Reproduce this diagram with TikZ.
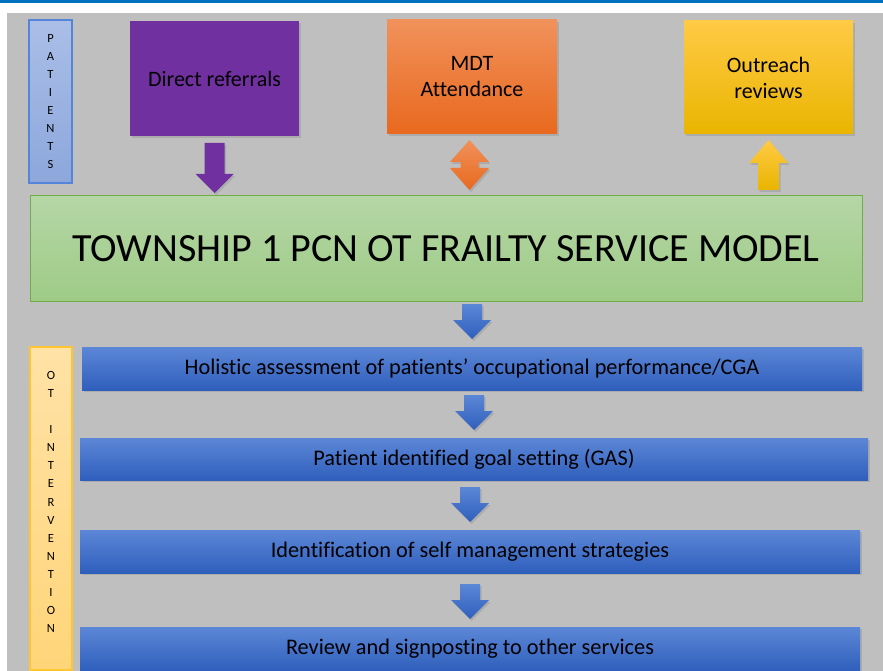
\documentclass[tikz,border=0pt]{standalone}
\usepackage{fontspec}
\setmainfont{Carlito}[Ligatures=NoCommon]
\usetikzlibrary{calc,shadows}

\definecolor{fond}{HTML}{BFBFBF}
\definecolor{bandeau}{HTML}{0070C0}
\definecolor{pourpre}{HTML}{7030A0}
\definecolor{orangehaut}{HTML}{F1915B}
\definecolor{orangebas}{HTML}{E8691E}
\definecolor{jaunehaut}{HTML}{FFCA45}
\definecolor{jaunebas}{HTML}{E9B500}
\definecolor{verthaut}{HTML}{B5D6A6}
\definecolor{vertbas}{HTML}{9ECB86}
\definecolor{vertbord}{HTML}{70AD47}
\definecolor{bleuhaut}{HTML}{5C87D7}
\definecolor{bleubas}{HTML}{2F5FBC}
\definecolor{cielhaut}{HTML}{AABEE7}
\definecolor{cielbas}{HTML}{8DA7DC}
\definecolor{cielbord}{HTML}{5585D8}
\definecolor{orhaut}{HTML}{FFE2A6}
\definecolor{orbas}{HTML}{FFD579}
\definecolor{orbord}{HTML}{FFC530}

\begin{document}
\begin{tikzpicture}[x=1pt, y=-1pt,
        boite/.style = {rectangle, inner sep=0pt, outer sep=0pt, align=center, anchor=north west},
        ombre/.style = {drop shadow={shadow xshift=1.5pt, shadow yshift=-2pt, opacity=0.3}},
        lettres/.style = {font=\fontsize{12.5}{18.1}\selectfont},
        barre/.style = {boite, ombre, top color=bleuhaut, bottom color=bleubas, font=\fontsize{22.3}{26}\selectfont},
        fbleue/.style = {top color=bleuhaut, bottom color=bleubas, ombre},
        pics/flechebas/.style 2 args = {code={
            \path[#1] (0,0) -- (19,-19) -- (10,-19) -- (10,-#2) -- (-10,-#2) -- (-10,-19) -- (-19,-19) -- cycle;
        }},
        pics/flechehaut/.style 2 args = {code={
            \path[#1] (0,0) -- (19.5,23) -- (10.5,23) -- (10.5,#2) -- (-10.5,#2) -- (-10.5,23) -- (-19.5,23) -- cycle;
        }},
        pics/flechedouble/.style = {code={
            \path[#1] (0,-25) -- (19.5,-3) -- (9,-3) -- (9,3) -- (19.5,3) -- (0,25) -- (-19.5,3) -- (-9,3) -- (-9,-3) -- (-19.5,-3) -- cycle;
        }}]

    \useasboundingbox (0,0) rectangle (883,671);
    \clip (0,0) rectangle (883,671);

    % Fond
    \fill[white] (0,0) rectangle (883,671);
    \fill[bandeau] (0,0) rectangle (883,3);
    \fill[fond] (7,13) rectangle (883,671);

    % Colonne patients
    \node[boite, lettres, draw=cielbord, line width=1.2pt, top color=cielhaut, bottom color=cielbas,
        minimum width=43, minimum height=163] (pat) at (29,20) {P\\A\\T\\I\\E\\N\\T\\S};

    % Sources
    \node[boite, ombre, fill=pourpre, minimum width=169, minimum height=115,
        font=\fontsize{22}{26}\selectfont] (ref) at (130,21) {Direct referrals};
    \node[boite, ombre, top color=orangehaut, bottom color=orangebas, minimum width=170, minimum height=114,
        font=\fontsize{22}{26}\selectfont] (mdt) at (387,20) {MDT\\Attendance};
    \node[boite, ombre, top color=jaunehaut, bottom color=jaunebas, minimum width=169, minimum height=113,
        font=\fontsize{22}{26}\selectfont] (out) at (684,21) {Outreach\\reviews};

    % Modele
    \node[boite, draw=vertbord, line width=1pt, top color=verthaut, bottom color=vertbas,
        minimum width=832, minimum height=105, font=\fontsize{40}{44}\selectfont] (core) at (30,196)
        {TOWNSHIP 1 PCN OT FRAILTY SERVICE MODEL};

    % Colonne intervention
    \node[boite, draw=orbord, line width=1.2pt, top color=orhaut, bottom color=orbas,
        minimum width=42, minimum height=323,
        label={[name=ottxt, lettres, align=center, yshift=6.5pt]center:O\\T\\~\\I\\N\\T\\E\\R\\V\\E\\N\\T\\I\\O\\N}]
        (ot) at (30,347) {};

    % Etapes
    \node[barre, minimum width=780, minimum height=43] (s1) at (82,347)
        {Holistic assessment of patients’ occupational performance/CGA};
    \node[barre, minimum width=788, minimum height=42] (s2) at (80,438)
        {Patient identified goal setting (GAS)};
    \node[barre, minimum width=780, minimum height=43] (s3) at (80,530)
        {Identification of self management strategies};
    \node[barre, minimum width=780, minimum height=44] (s4) at (80,627)
        {Review and signposting to other services};

    % Fleches d'entree
    \pic at ($(ref.south |- core.north)+(0,-3)$) {flechebas={fill=pourpre, ombre}{50}};
    \pic at ($($(mdt.south)!0.5!(core.north)$)+(10.5,0)$) {flechedouble={top color=orangehaut, bottom color=orangebas, ombre}};
    \pic at ($(out.south)+(0,6)$) {flechehaut={top color=jaunehaut, bottom color=jaunebas, ombre}{50}};

    % Fleches entre etapes
    \foreach \b in {s1,s2,s3,s4}{
        \pic at ($(\b.north)+(0,-8)$) {flechebas={fbleue}{35}};
    }
\end{tikzpicture}
\end{document}
